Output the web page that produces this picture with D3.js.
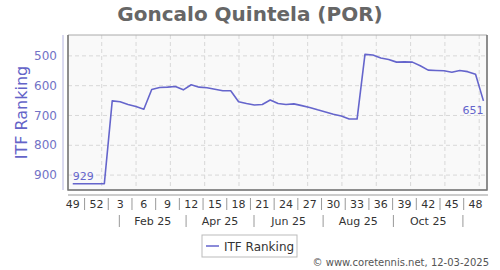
<!DOCTYPE html>
<html>
<head>
<meta charset="utf-8">
<script src="https://cdnjs.cloudflare.com/ajax/libs/d3/7.8.5/d3.min.js"></script>
<style>
body { margin: 0; background: #fff; }
svg { font-family: "DejaVu Sans", sans-serif; }
</style>
</head>
<body>
<div id="chart"></div>
<script>
var width = 500, height = 270;

// weekly ITF ranking, week 49 (2024) .. week 49 (2025)
var ranking = [929, 929, 929, 929, 929, 651, 654, 663, 670, 679,
               613, 606, 605, 603, 614, 597, 605, 607, 612, 617,
               617, 654, 660, 665, 663, 648, 660, 663, 661, 667,
               673, 681, 688, 696, 702, 712, 712, 495, 497, 507,
               512, 521, 520, 521, 533, 548, 549, 550, 555, 549,
               553, 562, 651];
var weekLabels = ["49", "52", "3", "6", "9", "12", "15", "18", "21", "24",
                  "27", "30", "33", "36", "39", "42", "45", "48"];
var monthLabels = ["Feb 25", "Apr 25", "Jun 25", "Aug 25", "Oct 25"];
var monthBreaks = [5.9, 14.35, 22.95, 31.7, 40.6, 49.4]; // in weeks from start
var yTicks = [500, 600, 700, 800, 900];

var plot = {left: 68, right: 487, top: 35, bottom: 190};
var lineColor = "#6565cc";

var svg = d3.select("#chart").append("svg")
    .attr("width", width)
    .attr("height", height);

var x = d3.scaleLinear().domain([-0.6, 52.45]).range([plot.left, plot.right]);
var y = d3.scaleLinear().domain([430, 950]).range([plot.top, plot.bottom]);

// title
svg.append("text")
    .attr("x", 250).attr("y", 21)
    .attr("text-anchor", "middle")
    .style("font-size", "20px").style("font-weight", "bold")
    .attr("fill", "#666")
    .text("Goncalo Quintela (POR)");

// plot background
svg.append("rect")
    .attr("x", plot.left).attr("y", plot.top)
    .attr("width", plot.right - plot.left).attr("height", plot.bottom - plot.top)
    .attr("fill", "#f9f9f9");

// grid
var gridX = d3.range(3.67, 52, 4.345);
svg.append("g").selectAll("line")
    .data(gridX).enter().append("line")
    .attr("x1", function(d) { return x(d); }).attr("x2", function(d) { return x(d); })
    .attr("y1", plot.top).attr("y2", plot.bottom)
    .attr("stroke", "#d8d8d8").attr("stroke-dasharray", "4,3");
svg.append("g").selectAll("line")
    .data(yTicks).enter().append("line")
    .attr("x1", plot.left).attr("x2", plot.right)
    .attr("y1", function(d) { return y(d); }).attr("y2", function(d) { return y(d); })
    .attr("stroke", "#d8d8d8").attr("stroke-dasharray", "4,3");

// plot border
svg.append("path")
    .attr("d", "M" + plot.left + "," + plot.top + "H" + plot.right + "V" + plot.bottom + "H" + plot.left + "Z")
    .attr("fill", "none").attr("stroke", "#aaa");
svg.append("path")
    .attr("d", "M" + plot.left + "," + plot.top + "V" + plot.bottom + "H" + plot.right + "V" + plot.top)
    .attr("fill", "none").attr("stroke", "#777").attr("stroke-width", 1.5);

// y axis
var yAxis = svg.append("g").attr("transform", "translate(63,0)");
yAxis.append("line")
    .attr("y1", plot.top).attr("y2", plot.bottom)
    .attr("stroke", "#b4b4e0");
yAxis.selectAll("text")
    .data(yTicks).enter().append("text")
    .attr("x", -6).attr("y", function(d) { return y(d); })
    .attr("dy", "0.35em").attr("text-anchor", "end")
    .style("font-size", "12px").attr("fill", "#7272c6")
    .text(function(d) { return d; });
svg.append("text")
    .attr("transform", "translate(27," + ((plot.top + plot.bottom) / 2) + ") rotate(-90)")
    .attr("text-anchor", "middle")
    .style("font-size", "16px").attr("fill", "#6464c8")
    .text("ITF Ranking");

// x axis
var xAxis = svg.append("g");
xAxis.append("line")
    .attr("x1", plot.left).attr("x2", plot.right + 1)
    .attr("y1", 195).attr("y2", 195)
    .attr("stroke", "#999");
xAxis.selectAll(".wk")
    .data(weekLabels).enter().append("text")
    .attr("class", "wk")
    .attr("x", function(d, i) { return x(i * 3); }).attr("y", 208)
    .attr("text-anchor", "middle")
    .style("font-size", "11px").attr("fill", "#333")
    .text(function(d) { return d; });
xAxis.selectAll(".wksep")
    .data(weekLabels.slice(1)).enter().append("line")
    .attr("x1", function(d, i) { return x(i * 3 + 1.5); })
    .attr("x2", function(d, i) { return x(i * 3 + 1.5); })
    .attr("y1", 198).attr("y2", 210)
    .attr("stroke", "#999");
xAxis.selectAll(".mon")
    .data(monthLabels).enter().append("text")
    .attr("x", function(d, i) { return x((monthBreaks[i] + monthBreaks[i + 1]) / 2); })
    .attr("y", 225)
    .attr("text-anchor", "middle")
    .style("font-size", "11px").attr("fill", "#333")
    .text(function(d) { return d; });
xAxis.selectAll(".monsep")
    .data(monthBreaks).enter().append("line")
    .attr("x1", function(d) { return x(d); }).attr("x2", function(d) { return x(d); })
    .attr("y1", 215).attr("y2", 227)
    .attr("stroke", "#999");

// ranking line
var line = d3.line()
    .x(function(d, i) { return x(i); })
    .y(function(d) { return y(d); });
svg.append("path")
    .datum(ranking)
    .attr("d", line)
    .attr("fill", "none")
    .attr("stroke", lineColor).attr("stroke-width", 1.6)
    .attr("stroke-linejoin", "round");

// first / last value labels
var last = ranking.length - 1;
svg.append("text")
    .attr("x", x(0)).attr("y", y(ranking[0]) - 4)
    .style("font-size", "11px").attr("fill", lineColor)
    .text(ranking[0]);
svg.append("text")
    .attr("x", x(last)).attr("y", y(ranking[last]) + 13)
    .attr("text-anchor", "end")
    .style("font-size", "11px").attr("fill", lineColor)
    .text(ranking[last]);

// legend
var legend = svg.append("g").attr("transform", "translate(202,235)");
legend.append("rect")
    .attr("width", 95).attr("height", 22)
    .attr("fill", "#fff").attr("stroke", "#bbb");
legend.append("line")
    .attr("x1", 4).attr("x2", 17).attr("y1", 11).attr("y2", 11)
    .attr("stroke", lineColor).attr("stroke-width", 1.5);
legend.append("text")
    .attr("x", 22).attr("y", 15.5)
    .style("font-size", "12px").attr("fill", "#333")
    .text("ITF Ranking");

svg.append("text")
    .attr("x", 489).attr("y", 266)
    .attr("text-anchor", "end")
    .style("font-size", "10px").attr("fill", "#555")
    .text("\u00a9 www.coretennis.net, 12-03-2025");
</script>
</body>
</html>
